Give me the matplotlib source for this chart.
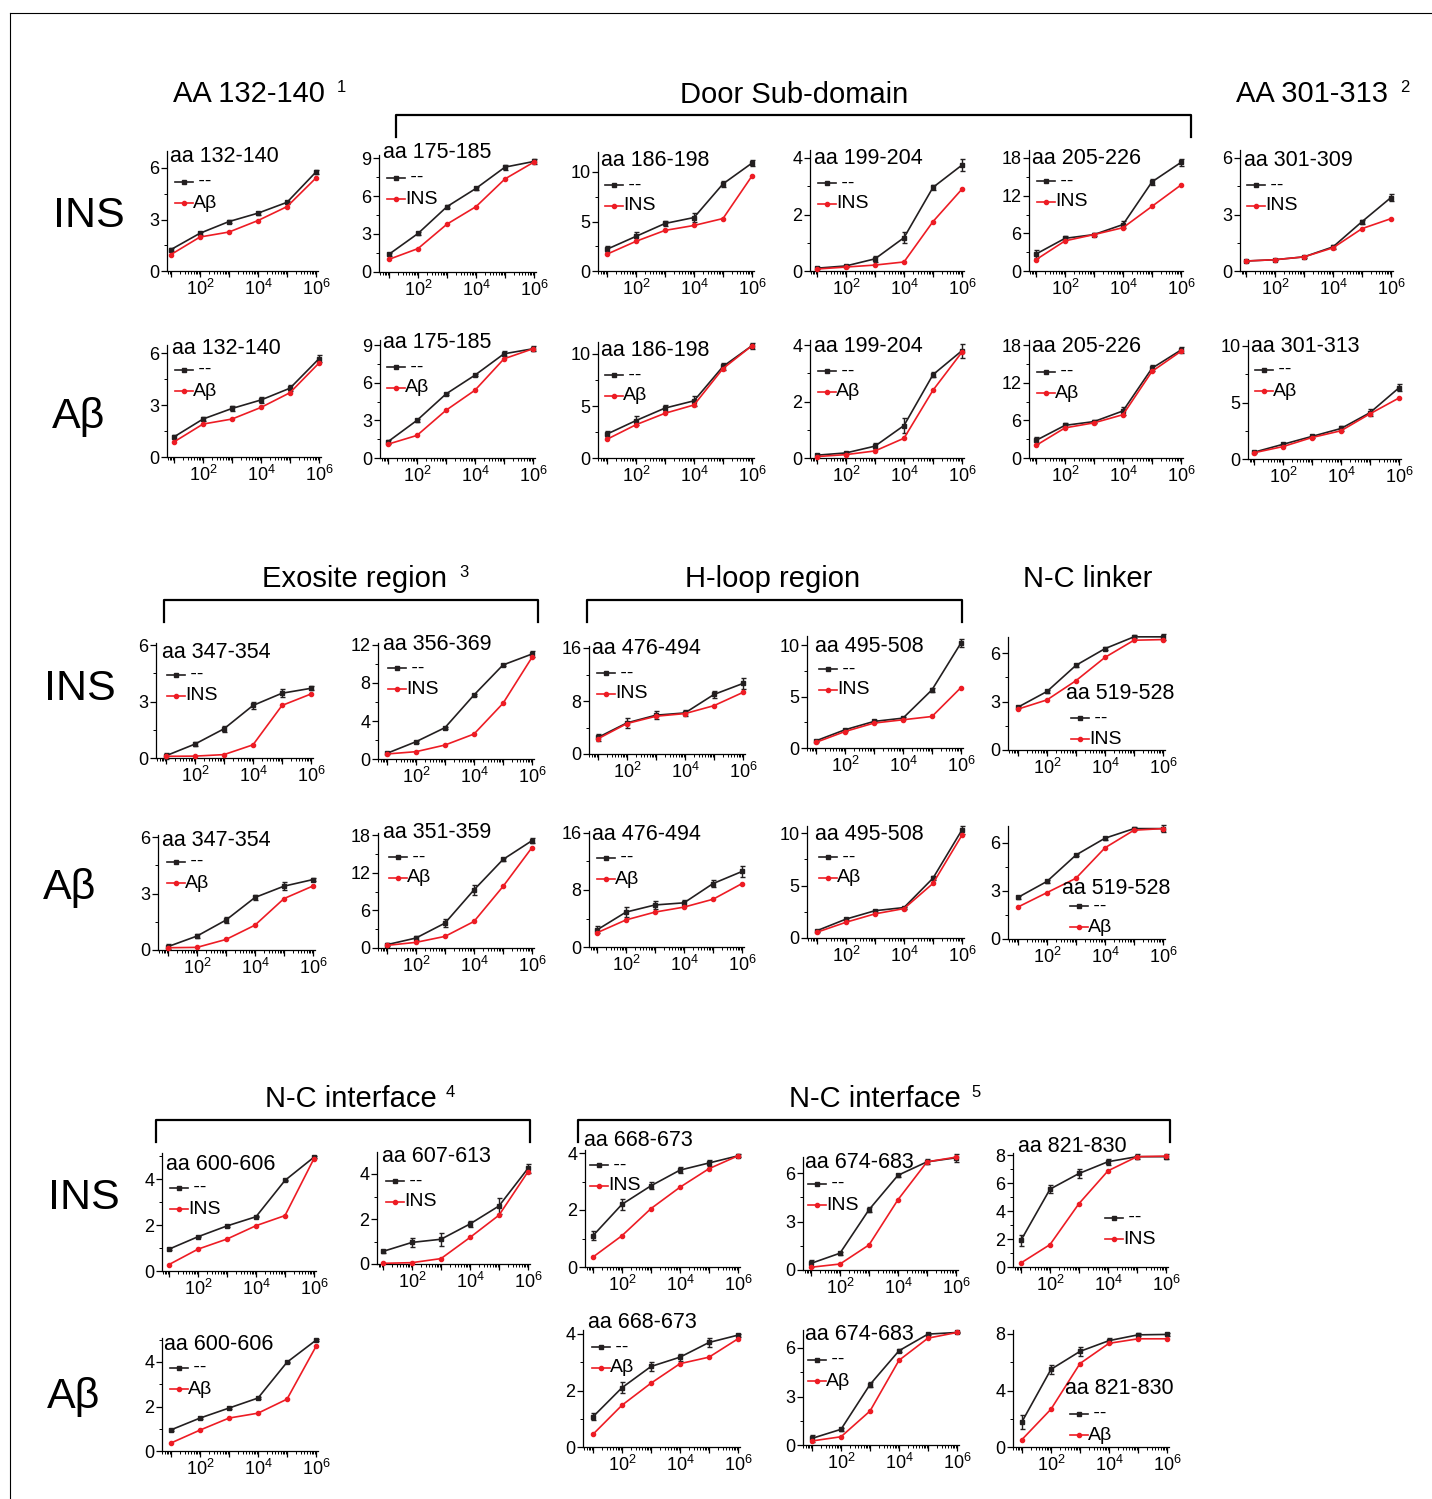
import matplotlib
matplotlib.use('Agg')
import matplotlib.pyplot as plt
from matplotlib.lines import Line2D
from matplotlib.ticker import FixedLocator, LogLocator, NullFormatter, FixedFormatter, AutoMinorLocator

plt.rcParams['font.family'] = ['Liberation Sans', 'DejaVu Sans']
plt.rcParams['mathtext.fontset'] = 'custom'
plt.rcParams['mathtext.rm'] = 'Liberation Sans'

W, H = 1432, 1499
BLACK = '#231f20'
RED = '#ed1c24'

# ligand concentrations (x axis)
conc = [1e1, 1e2, 1e3, 1e4, 1e5, 1e6]

# ---- row 1: INS ----
names_r1 = ['aa 132-140', 'aa 175-185', 'aa 186-198', 'aa 199-204', 'aa 205-226', 'aa 301-309']
keys_r1 = ['Aβ', 'INS', 'INS', 'INS', 'INS', 'INS']
yticks_r1 = [[0, 3, 6], [0, 3, 6, 9], [0, 5, 10], [0, 2, 4], [0, 6, 12, 18], [0, 3, 6]]
ctrl_r1 = [[1.25, 2.2, 2.88, 3.37, 4.0, 5.77],
           [1.4, 3.04, 5.16, 6.6, 8.28, 8.73],
           [2.2, 3.5, 4.8, 5.4, 8.8, 10.9],
           [0.1, 0.18, 0.43, 1.18, 2.96, 3.75],
           [2.7, 5.2, 5.8, 7.4, 14.2, 17.3],
           [0.53, 0.6, 0.75, 1.28, 2.62, 3.9]]
lig_r1 = [[0.96, 1.98, 2.27, 2.94, 3.75, 5.42],
          [1.0, 1.85, 3.78, 5.16, 7.35, 8.68],
          [1.7, 3.0, 4.1, 4.6, 5.3, 9.6],
          [0.07, 0.14, 0.21, 0.32, 1.75, 2.9],
          [1.8, 4.8, 5.8, 6.9, 10.3, 13.7],
          [0.53, 0.6, 0.75, 1.23, 2.25, 2.78]]
err_r1 = [[0.08, 0.08, 0.08, 0.08, 0.08, 0.12],
          [0.1, 0.1, 0.1, 0.1, 0.2, 0.2],
          [0.3, 0.4, 0.3, 0.5, 0.3, 0.3],
          [0.03, 0.03, 0.1, 0.2, 0.1, 0.2],
          [0.6, 0.3, 0.3, 0.6, 0.5, 0.5],
          [0.03, 0.03, 0.05, 0.1, 0.1, 0.2]]

# ---- row 2: Abeta ----
names_r2 = ['aa 132-140', 'aa 175-185', 'aa 186-198', 'aa 199-204', 'aa 205-226', 'aa 301-313']
keys_r2 = ['Aβ'] * 6
yticks_r2 = [[0, 3, 6], [0, 3, 6, 9], [0, 5, 10], [0, 2, 4], [0, 6, 12, 18], [0, 5, 10]]
ctrl_r2 = [[1.16, 2.19, 2.8, 3.29, 3.97, 5.67],
           [1.3, 3.0, 5.1, 6.6, 8.3, 8.7],
           [2.3, 3.6, 4.8, 5.5, 8.8, 10.8],
           [0.1, 0.18, 0.42, 1.15, 2.95, 3.8],
           [2.8, 5.2, 5.8, 7.5, 14.3, 17.2],
           [0.6, 1.3, 2.0, 2.7, 4.1, 6.3]]
lig_r2 = [[0.87, 1.9, 2.19, 2.86, 3.71, 5.42],
          [1.1, 1.8, 3.8, 5.4, 7.9, 8.7],
          [1.8, 3.2, 4.3, 5.1, 8.6, 10.8],
          [0.05, 0.12, 0.25, 0.7, 2.4, 3.75],
          [2.0, 4.8, 5.6, 6.9, 13.8, 17.0],
          [0.55, 1.1, 1.9, 2.5, 4.0, 5.4]]
err_r2 = [[0.1, 0.1, 0.12, 0.15, 0.18, 0.2],
          [0.15, 0.1, 0.1, 0.1, 0.2, 0.2],
          [0.3, 0.4, 0.3, 0.5, 0.3, 0.3],
          [0.03, 0.03, 0.1, 0.25, 0.1, 0.25],
          [0.6, 0.3, 0.3, 0.6, 0.5, 0.5],
          [0.05, 0.1, 0.1, 0.2, 0.3, 0.3]]

# ---- row 3: INS ----
names_r3 = ['aa 347-354', 'aa 356-369', 'aa 476-494', 'aa 495-508', 'aa 519-528']
keys_r3 = ['INS'] * 5
yticks_r3 = [[0, 3, 6], [0, 4, 8, 12], [0, 8, 16], [0, 5, 10], [0, 3, 6]]
ctrl_r3 = [[0.12, 0.74, 1.55, 2.79, 3.44, 3.7],
           [0.6, 1.82, 3.3, 6.74, 9.9, 11.05],
           [2.5, 4.7, 5.86, 6.2, 8.99, 10.65],
           [0.7, 1.77, 2.58, 2.9, 5.65, 10.2],
           [2.65, 3.62, 5.24, 6.27, 7.0, 7.0]]
lig_r3 = [[0.09, 0.1, 0.18, 0.7, 2.79, 3.4],
          [0.53, 0.77, 1.47, 2.63, 5.86, 10.7],
          [2.3, 4.6, 5.7, 6.1, 7.3, 9.3],
          [0.55, 1.6, 2.42, 2.74, 3.06, 5.87],
          [2.53, 3.1, 4.29, 5.73, 6.79, 6.83]]
err_r3 = [[0.15, 0.1, 0.15, 0.2, 0.2, 0.1],
          [0.1, 0.1, 0.1, 0.1, 0.1, 0.3],
          [0.5, 0.7, 0.6, 0.4, 0.5, 0.8],
          [0.1, 0.1, 0.1, 0.1, 0.2, 0.4],
          [0.08, 0.08, 0.08, 0.1, 0.1, 0.2]]

# ---- row 4: Abeta ----
names_r4 = ['aa 347-354', 'aa 351-359', 'aa 476-494', 'aa 495-508', 'aa 519-528']
keys_r4 = ['Aβ'] * 5
yticks_r4 = [[0, 3, 6], [0, 6, 12, 18], [0, 8, 16], [0, 5, 10], [0, 3, 6]]
ctrl_r4 = [[0.18, 0.74, 1.59, 2.79, 3.39, 3.74],
           [0.53, 1.59, 3.97, 9.26, 14.1, 17.1],
           [2.4, 4.9, 5.9, 6.2, 8.9, 10.6],
           [0.7, 1.8, 2.6, 2.9, 5.7, 10.3],
           [2.6, 3.6, 5.25, 6.3, 6.9, 6.9]]
lig_r4 = [[0.12, 0.14, 0.56, 1.32, 2.73, 3.4],
          [0.42, 0.9, 1.85, 4.23, 9.8, 16.0],
          [2.0, 3.8, 4.9, 5.6, 6.7, 8.9],
          [0.55, 1.5, 2.3, 2.8, 5.2, 9.8],
          [2.0, 2.9, 3.8, 5.7, 6.8, 6.9]]
err_r4 = [[0.15, 0.1, 0.15, 0.15, 0.2, 0.1],
          [0.2, 0.3, 0.6, 0.8, 0.3, 0.4],
          [0.5, 0.7, 0.6, 0.4, 0.5, 0.8],
          [0.1, 0.1, 0.1, 0.1, 0.2, 0.4],
          [0.08, 0.08, 0.08, 0.1, 0.1, 0.2]]

# ---- row 5: INS ----
names_r5 = ['aa 600-606', 'aa 607-613', 'aa 668-673', 'aa 674-683', 'aa 821-830']
keys_r5 = ['INS'] * 5
yticks_r5 = [[0, 2, 4], [0, 2, 4], [0, 2, 4], [0, 3, 6], [0, 2, 4, 6, 8]]
ctrl_r5 = [[0.95, 1.49, 1.96, 2.36, 3.94, 4.95],
           [0.56, 0.96, 1.1, 1.78, 2.58, 4.25],
           [1.1, 2.2, 2.85, 3.4, 3.65, 3.9],
           [0.41, 1.04, 3.73, 5.86, 6.69, 6.94],
           [1.91, 5.56, 6.68, 7.52, 7.88, 7.88]]
lig_r5 = [[0.28, 0.95, 1.39, 1.97, 2.41, 4.89],
          [0.03, 0.06, 0.24, 1.18, 2.17, 4.1],
          [0.35, 1.1, 2.05, 2.8, 3.45, 3.9],
          [0.17, 0.37, 1.55, 4.35, 6.69, 6.98],
          [0.29, 1.6, 4.53, 6.87, 7.88, 7.92]]
err_r5 = [[0.03, 0.03, 0.03, 0.03, 0.03, 0.05],
          [0.05, 0.2, 0.3, 0.15, 0.35, 0.2],
          [0.15, 0.2, 0.12, 0.1, 0.12, 0.05],
          [0.2, 0.1, 0.15, 0.08, 0.15, 0.25],
          [0.4, 0.3, 0.3, 0.2, 0.2, 0.2]]

# ---- row 6: Abeta ----
names_r6 = ['aa 600-606', 'aa 668-673', 'aa 674-683', 'aa 821-830']
keys_r6 = ['Aβ'] * 4
yticks_r6 = [[0, 2, 4], [0, 2, 4], [0, 3, 6], [0, 4, 8]]
ctrl_r6 = [[0.95, 1.48, 1.93, 2.38, 3.99, 4.98],
           [1.07, 2.1, 2.85, 3.18, 3.7, 3.96],
           [0.41, 0.97, 3.74, 5.83, 6.86, 6.96],
           [1.79, 5.5, 6.77, 7.53, 7.94, 7.97]]
lig_r6 = [[0.36, 0.94, 1.48, 1.7, 2.33, 4.7],
          [0.45, 1.48, 2.26, 2.95, 3.18, 3.83],
          [0.25, 0.51, 2.1, 5.24, 6.61, 6.96],
          [0.53, 2.68, 5.91, 7.34, 7.66, 7.66]]
err_r6 = [[0.03, 0.03, 0.03, 0.03, 0.03, 0.05],
          [0.12, 0.2, 0.15, 0.12, 0.15, 0.05],
          [0.2, 0.1, 0.15, 0.08, 0.05, 0.05],
          [0.5, 0.3, 0.3, 0.2, 0.1, 0.1]]

# ---- layout in pixels: (y-spine x, 10^2 x, zero y, spine top y, top tick y) ----
box_r1 = [(167, 200, 271, 151, 168), (379, 418, 272, 155, 158), (598, 636, 271, 152, 172),
          (810, 846, 271, 150, 158), (1029, 1065, 271, 150, 158), (1240, 1275, 271, 150, 158)]
box_r2 = [(167, 203, 457, 345, 353), (380, 417, 458, 340, 345), (598, 636, 458, 342, 354),
          (810, 846, 458, 340, 345), (1029, 1065, 458, 340, 345), (1248, 1283, 459, 340, 346)]
box_r3 = [(156, 195, 758, 643, 645), (378, 416, 759, 643, 645), (589, 627, 754, 646, 648),
          (807, 845, 748, 636, 645), (1008, 1047, 750, 637, 653)]
box_r4 = [(158, 197, 950, 835, 837), (378, 416, 948, 833, 835), (589, 626, 947, 831, 833),
          (807, 846, 938, 826, 833), (1008, 1047, 939, 826, 843)]
box_r5 = [(162, 198, 1271, 1153, 1179), (377, 412, 1264, 1152, 1174), (585, 622, 1267, 1150, 1153),
          (803, 840, 1270, 1157, 1173), (1013, 1050, 1267, 1153, 1155)]
box_r6 = [(162, 200, 1451, 1338, 1362), (583, 622, 1447, 1330, 1334),
          (803, 841, 1445, 1330, 1348), (1013, 1051, 1447, 1330, 1334)]

title_r1 = [(170, 156), (383, 153), (601, 161), (814, 158), (1032, 158), (1244, 160)]
title_r2 = [(172, 348), (383, 343), (601, 351), (814, 346), (1032, 346), (1251, 347)]
title_r3 = [(162, 652), (383, 645), (592, 648), (815, 647), (1066, 693)]
title_r4 = [(162, 840), (383, 833), (592, 834), (815, 834), (1062, 888)]
title_r5 = [(166, 1165), (382, 1157), (584, 1140), (805, 1162), (1018, 1147)]
title_r6 = [(164, 1344), (588, 1323), (805, 1335), (1065, 1388)]

key_r1 = [(175, 182), (387, 178), (605, 185), (818, 183), (1037, 181), (1247, 185)]
key_r2 = [(175, 370), (387, 367), (605, 375), (818, 371), (1037, 372), (1255, 370)]
key_r3 = [(167, 675), (388, 668), (597, 673), (819, 669), (1071, 718)]
key_r4 = [(167, 862), (389, 857), (597, 858), (819, 857), (1070, 906)]
key_r5 = [(170, 1188), (386, 1181), (590, 1165), (808, 1184), (1105, 1218)]
key_r6 = [(170, 1368), (592, 1347), (808, 1360), (1070, 1414)]

fig = plt.figure(figsize=(W / 100, H / 100), dpi=100)


def fx(x):
    return x / W


def fy(y):
    return 1 - y / H


def draw_key(x, y, color, marker, label):
    fig.add_artist(Line2D([fx(x), fx(x + 18)], [fy(y), fy(y)], color=color, lw=1.2))
    fig.add_artist(Line2D([fx(x + 9)], [fy(y)], color=color, marker=marker, ms=3, ls='none'))
    fig.text(fx(x + 18), fy(y), label, fontsize=14, ha='left', va='center')


def draw_panel(box, yticks, ctrl, lig, err, name, key, title_xy, key_xy):
    spine, x2, y0, ytop, tick_px = box
    dec = 29.0
    x6 = x2 + 4 * dec
    ax = fig.add_axes([fx(spine), fy(y0), (x6 + 2 - spine) / W, (y0 - ytop) / H])
    ax.set_xscale('log')
    ax.set_xlim(10 ** (2 - (x2 - spine) / dec), 10 ** (6 + 2 / dec))
    ax.set_ylim(0, yticks[-1] * (y0 - ytop) / (y0 - tick_px))

    ax.errorbar(conc, ctrl, yerr=err, color=BLACK, marker='s', ms=3, lw=1.2,
                capsize=1.8, elinewidth=1, capthick=1, clip_on=False, zorder=3)
    ax.plot(conc, lig, color=RED, marker='o', ms=3, lw=1.2, clip_on=False, zorder=4)

    for s in ['top', 'right']:
        ax.spines[s].set_visible(False)
    for s in ['left', 'bottom']:
        ax.spines[s].set_linewidth(0.9)
    ax.patch.set_alpha(0)

    ax.xaxis.set_major_locator(FixedLocator(conc))
    ax.xaxis.set_major_formatter(FixedFormatter(
        ['', r'$\mathregular{10^{2}}$', '', r'$\mathregular{10^{4}}$', '', r'$\mathregular{10^{6}}$']))
    ax.xaxis.set_minor_locator(LogLocator(base=10, subs=range(2, 10), numticks=20))
    ax.xaxis.set_minor_formatter(NullFormatter())
    ax.set_yticks(yticks)
    ax.yaxis.set_minor_locator(AutoMinorLocator(2))
    ax.tick_params(axis='both', which='major', direction='out', length=4, width=0.9,
                   labelsize=13, pad=1.5)
    ax.tick_params(axis='both', which='minor', direction='out', length=2.2, width=0.7)

    fig.text(fx(title_xy[0]), fy(title_xy[1]), name, fontsize=15.5, ha='left', va='center')
    draw_key(key_xy[0], key_xy[1], BLACK, 's', ' --')
    draw_key(key_xy[0], key_xy[1] + 21, RED, 'o', key)


rows = [
    (box_r1, yticks_r1, ctrl_r1, lig_r1, err_r1, names_r1, keys_r1, title_r1, key_r1),
    (box_r2, yticks_r2, ctrl_r2, lig_r2, err_r2, names_r2, keys_r2, title_r2, key_r2),
    (box_r3, yticks_r3, ctrl_r3, lig_r3, err_r3, names_r3, keys_r3, title_r3, key_r3),
    (box_r4, yticks_r4, ctrl_r4, lig_r4, err_r4, names_r4, keys_r4, title_r4, key_r4),
    (box_r5, yticks_r5, ctrl_r5, lig_r5, err_r5, names_r5, keys_r5, title_r5, key_r5),
    (box_r6, yticks_r6, ctrl_r6, lig_r6, err_r6, names_r6, keys_r6, title_r6, key_r6),
]
for row in rows:
    for args in zip(*row):
        draw_panel(*args)

# row labels
for label, x, y in [('INS', 53, 227), ('Aβ', 52, 428), ('INS', 44, 700),
                    ('Aβ', 43, 899), ('INS', 48, 1209), ('Aβ', 47, 1408)]:
    fig.text(fx(x), fy(y), label, fontsize=31, ha='left', va='baseline')

# section headings with footnote marks
for text, x, y, note, nx in [('AA 132-140', 173, 102, '1', 337),
                             ('Door Sub-domain', 680, 103, '', 0),
                             ('AA 301-313', 1236, 102, '2', 1400),
                             ('Exosite region', 262, 587, '3', 459),
                             ('H-loop region', 685, 587, '', 0),
                             ('N-C linker', 1023, 587, '', 0),
                             ('N-C interface', 265, 1107, '4', 446),
                             ('N-C interface', 789, 1107, '5', 971)]:
    fig.text(fx(x), fy(y), text, fontsize=21, ha='left', va='baseline')
    if note:
        fig.text(fx(nx), fy(y - 10), note, fontsize=12, ha='left', va='baseline')

# brackets over grouped panels
for x1, x2, ytop, ybot in [(396, 1191, 115, 137), (164, 538, 600, 622), (587, 962, 600, 622),
                           (156, 530, 1120, 1142), (578, 1170, 1120, 1142)]:
    fig.add_artist(Line2D([fx(x1), fx(x1), fx(x2), fx(x2)],
                          [fy(ybot), fy(ytop), fy(ytop), fy(ybot)],
                          color='black', lw=1.6, solid_joinstyle='round'))

# frame lines
fig.add_artist(Line2D([fx(10), 1], [fy(13), fy(13)], color='black', lw=0.8))
fig.add_artist(Line2D([fx(10), fx(10)], [fy(13), 0], color='black', lw=0.8))

fig.savefig('out.png', dpi=100)
